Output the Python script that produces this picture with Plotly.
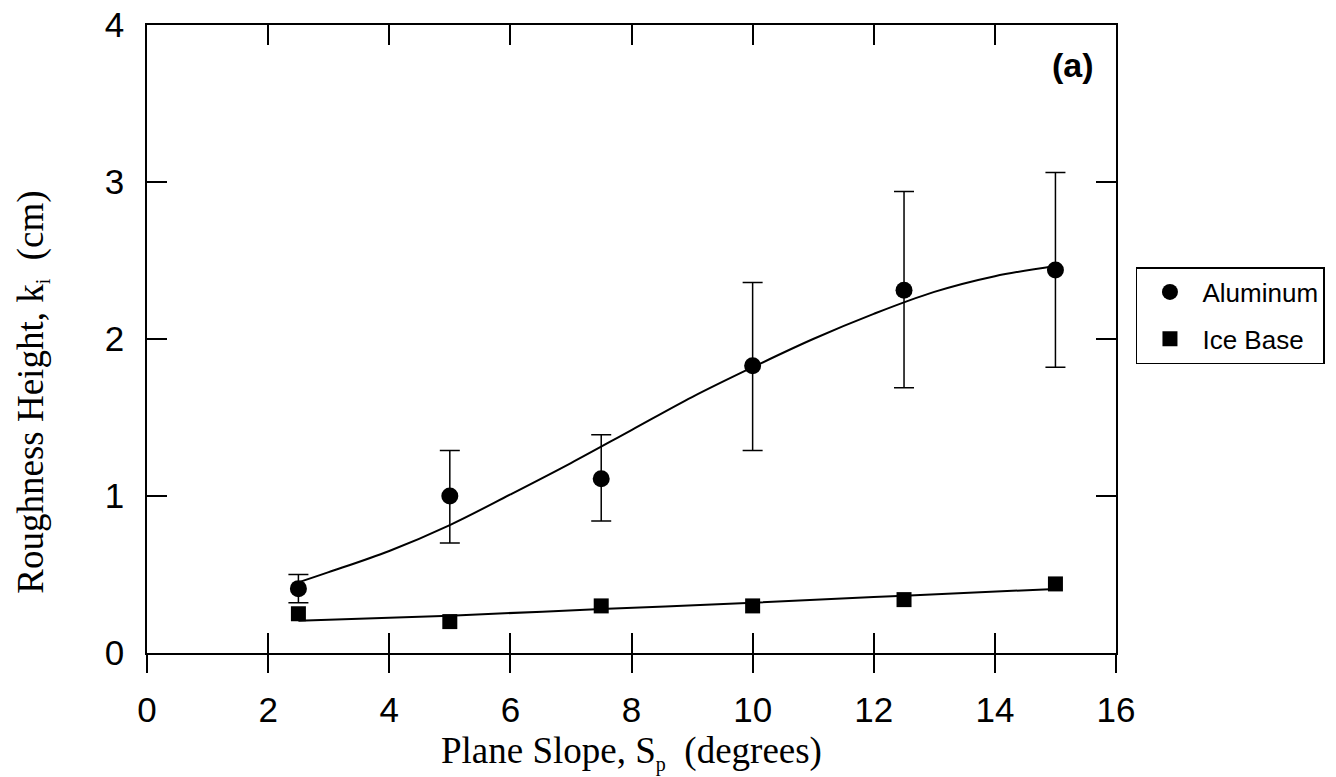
import plotly.graph_objects as go

# ---- data ----
slope = [2.5, 5.0, 7.5, 10.0, 12.5, 15.0]
alum_k = [0.41, 1.00, 1.11, 1.83, 2.31, 2.44]
alum_hi = [0.50, 1.29, 1.39, 2.36, 2.94, 3.06]
alum_lo = [0.32, 0.70, 0.84, 1.29, 1.69, 1.82]
ice_k = [0.25, 0.20, 0.30, 0.30, 0.34, 0.44]

alum_fit_x = [2.5, 3.0, 4.0, 5.0, 6.0, 7.0, 8.0, 9.0, 10.0, 11.0, 12.0, 13.0, 14.0, 15.0]
alum_fit_y = [0.45, 0.515, 0.65, 0.815, 1.01, 1.21, 1.42, 1.63, 1.82, 2.00, 2.16, 2.30, 2.40, 2.465]
ice_fit_x = [2.5, 5.0, 7.5, 10.0, 12.5, 15.0]
ice_fit_y = [0.205, 0.238, 0.28, 0.32, 0.365, 0.408]

x_ticks = [0, 2, 4, 6, 8, 10, 12, 14, 16]
y_ticks = [0, 1, 2, 3, 4]

err_plus = [h - v for h, v in zip(alum_hi, alum_k)]
err_minus = [v - l for v, l in zip(alum_k, alum_lo)]

fig = go.Figure()

fig.add_trace(go.Scatter(
    x=alum_fit_x, y=alum_fit_y, mode="lines", line=dict(color="black", width=2, shape="spline"),
    showlegend=False, hoverinfo="skip"))
fig.add_trace(go.Scatter(
    x=ice_fit_x, y=ice_fit_y, mode="lines", line=dict(color="black", width=2, shape="spline"),
    showlegend=False, hoverinfo="skip"))

fig.add_trace(go.Scatter(
    x=slope, y=alum_k, mode="markers", name="Aluminum", legendgroup="a",
    marker=dict(symbol="circle", size=17, color="black"),
    error_y=dict(type="data", symmetric=False, array=err_plus, arrayminus=err_minus,
                 color="black", thickness=1.5, width=10)))
fig.add_trace(go.Scatter(
    x=slope, y=ice_k, mode="markers", name="Ice Base", legendgroup="b",
    marker=dict(symbol="square", size=15, color="black")))

# invisible trace carrying the outside ticks / labels of the bottom axis
fig.add_trace(go.Scatter(x=[0, 16], y=[0, 0], xaxis="x2", yaxis="y", mode="markers",
                         marker=dict(opacity=0), showlegend=False, hoverinfo="skip"))

tick_font = dict(family="Liberation Sans, Arial", size=35, color="black")

fig.update_layout(
    width=1328, height=769, autosize=False,
    paper_bgcolor="white", plot_bgcolor="white",
    margin=dict(l=139, r=220, t=17, b=124, autoexpand=False),
    xaxis=dict(range=[0, 16], tickvals=x_ticks, ticks="inside", ticklen=20, tickwidth=1.5,
               tickcolor="black", showline=True, linecolor="black", linewidth=1.5,
               mirror="ticks", showgrid=False, zeroline=False, showticklabels=False),
    xaxis2=dict(range=[0, 16], tickvals=x_ticks, ticktext=[str(t) for t in x_ticks],
                overlaying="x", side="bottom", anchor="y", ticks="outside", ticklen=19,
                tickwidth=1.5, tickcolor="black", showline=False, showgrid=False,
                zeroline=False, tickfont=tick_font, ticklabelstandoff=7,
                ticklabeloverflow="allow"),
    yaxis=dict(range=[0, 4], tickvals=y_ticks, ticks="inside", ticklen=20, tickwidth=1.5,
               tickcolor="black", showline=True, linecolor="black", linewidth=1.5,
               mirror="ticks", showgrid=False, zeroline=False, tickfont=tick_font,
               ticklabelstandoff=14, ticklabeloverflow="allow"),
    legend=dict(x=1.0206, y=0.6146, xanchor="left", yanchor="top",
                bordercolor="black", borderwidth=1.5, bgcolor="white",
                font=dict(family="Liberation Sans, Arial", size=26, color="black"),
                itemwidth=55, tracegroupgap=10),
    showlegend=True,
)

fig.add_annotation(text="Plane Slope, S<sub><span style='font-size:20px'>p</span></sub>  (degrees)",
                   xref="paper", yref="paper",
                   x=0.5, y=-0.16, xanchor="center", yanchor="middle", showarrow=False,
                   font=dict(family="Liberation Serif, Times New Roman", size=37, color="black"))
fig.add_annotation(text="Roughness Height, k<sub><span style='font-size:20px'>i</span></sub>  (cm)",
                   xref="paper", yref="paper",
                   x=-0.119, y=0.4156, xanchor="center", yanchor="middle", showarrow=False,
                   textangle=-90,
                   font=dict(family="Liberation Serif, Times New Roman", size=37, color="black"))
fig.add_annotation(text="<b>(a)</b>", xref="paper", yref="paper",
                   x=0.979, y=0.936, xanchor="right", yanchor="middle", showarrow=False,
                   font=dict(family="Liberation Sans, Arial", size=34, color="black"))

fig.write_html("out.html")
